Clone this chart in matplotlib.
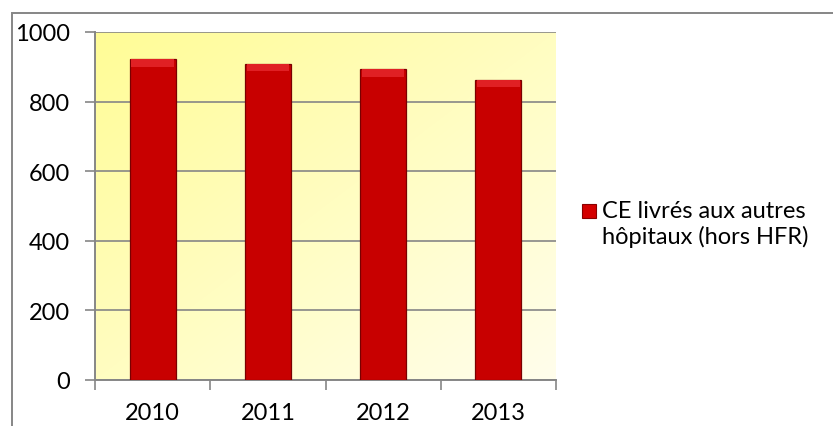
import numpy as np
import matplotlib
matplotlib.use("Agg")
from matplotlib import pyplot as plt
from matplotlib.patches import Rectangle

years = ["2010", "2011", "2012", "2013"]
values = [922, 909, 893, 863]
series_label = ["CE livrés aux autres", "hôpitaux (hors HFR)"]
yticks = [0, 200, 400, 600, 800, 1000]

plt.rcParams['font.family'] = ['Lato', 'DejaVu Sans']
grey = "#868686"
fs = 17

fig = plt.figure(figsize=(8.33, 4.27), dpi=100)
ax = fig.add_axes([95/833, 46/427, 461/833, 348/427])

# yellow gradient background of the plot area
gx, gy = np.meshgrid(np.linspace(0, 1, 200), np.linspace(0, 1, 200))
t = np.clip((gx + gy) / 2, 0, 1)
c0 = np.array([255, 252, 150]) / 255
c1 = np.array([255, 254, 236]) / 255
img = c0[None, None, :] * (1 - t[..., None]) + c1[None, None, :] * t[..., None]
ax.imshow(img, extent=[-0.5, 3.5, 0, 1000], aspect="auto", zorder=0,
          origin="upper", interpolation="bilinear")

x = np.arange(len(years))
ax.bar(x, values, width=0.4, color="#c80000", edgecolor="#7a0000",
       linewidth=0.9, zorder=3)
# bevel highlight on top of each bar
bevel = 22
ax.bar(x, [bevel] * len(x), bottom=[v - bevel for v in values], width=0.37,
       color="#e02024", linewidth=0, zorder=4)

ax.set_xlim(-0.5, 3.5)
ax.set_ylim(0, 1000)
ax.set_yticks(yticks)
ax.grid(axis="y", color=grey, linewidth=1.2, zorder=1)
ax.set_axisbelow(True)

ax.set_xticks(x)
ax.set_xticklabels(years)
ax.set_xticks(np.arange(-0.5, 4, 1), minor=True)
ax.tick_params(axis="x", which="major", length=0, pad=16, labelsize=fs)
ax.tick_params(axis="x", which="minor", length=7, width=1.2, color=grey)
ax.tick_params(axis="y", length=7, width=1.2, color=grey, pad=11, labelsize=fs)

for s in ["top", "right"]:
    ax.spines[s].set_visible(False)
for s in ["left", "bottom"]:
    ax.spines[s].set_color(grey)
    ax.spines[s].set_linewidth(1.4)

# outer chart border
fig.patches.append(Rectangle((12/833, -0.1), 1.0, 1 - 14/427 + 0.1,
                             transform=fig.transFigure, fill=False,
                             edgecolor=grey, linewidth=1.4))

# legend
fig.patches.append(Rectangle((582/833, 1 - 219/427), 14/833, 14/427,
                             transform=fig.transFigure, facecolor="#d40000",
                             edgecolor="#8a0000", linewidth=0.8))
fig.text(602/833, 1 - 212/427, series_label[0], fontsize=fs, va="center")
fig.text(602/833, 1 - 237/427, series_label[1], fontsize=fs, va="center")

fig.savefig("out.png", dpi=100)
